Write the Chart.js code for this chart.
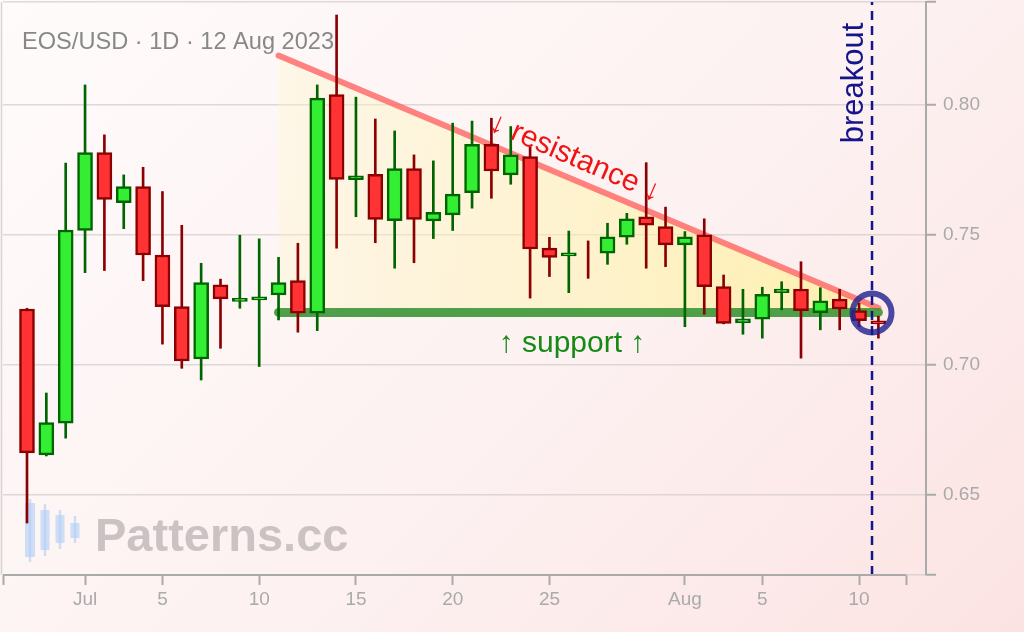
<!DOCTYPE html>
<html lang="en">
<head>
<meta charset="UTF-8">
<title>EOS/USD 1D - Descending Triangle</title>
<style>
    html, body { margin: 0; padding: 0; }
    body {
        width: 1024px;
        height: 632px;
        overflow: hidden;
        background: linear-gradient(135deg, #fffbfb 0%, #fdf1f1 55%, #fce3e3 100%);
        font-family: "Liberation Sans", Arial, sans-serif;
    }
    #chart { display: block; }
</style>
</head>
<body>
<canvas id="chart" width="1024" height="632"></canvas>

<script src="https://cdn.jsdelivr.net/npm/chart.js@4/dist/chart.umd.min.js"></script>
<script>
    // Daily candles, EOS/USD
    const dates = [
        '2023-06-28', '2023-06-29', '2023-06-30', '2023-07-01', '2023-07-02', '2023-07-03',
        '2023-07-04', '2023-07-05', '2023-07-06', '2023-07-07', '2023-07-08', '2023-07-09',
        '2023-07-10', '2023-07-11', '2023-07-12', '2023-07-13', '2023-07-14', '2023-07-15',
        '2023-07-16', '2023-07-17', '2023-07-18', '2023-07-19', '2023-07-20', '2023-07-21',
        '2023-07-22', '2023-07-23', '2023-07-24', '2023-07-25', '2023-07-26', '2023-07-27',
        '2023-07-28', '2023-07-29', '2023-07-30', '2023-07-31', '2023-08-01', '2023-08-02',
        '2023-08-03', '2023-08-04', '2023-08-05', '2023-08-06', '2023-08-07', '2023-08-08',
        '2023-08-09', '2023-08-10', '2023-08-11'
    ];
    const opens = [
        0.7215, 0.6654, 0.6776, 0.7517, 0.7817, 0.7624, 0.7686, 0.7423, 0.7224, 0.7023,
        0.7308, 0.7244, 0.7250, 0.7269, 0.7324, 0.7199, 0.8040, 0.7713, 0.7733, 0.7555,
        0.7755, 0.7554, 0.7577, 0.7663, 0.7849, 0.7731, 0.7801, 0.7449, 0.7419, 0.7410,
        0.7430, 0.7491, 0.7570, 0.7532, 0.7462, 0.7500, 0.7301, 0.7162, 0.7176, 0.7278,
        0.7292, 0.7201, 0.7253, 0.7209, 0.7170
    ];
    const highs = [
        0.7218, 0.6892, 0.7776, 0.8077, 0.7885, 0.7731, 0.7760, 0.7667, 0.7537, 0.7391,
        0.7330, 0.7499, 0.7485, 0.7414, 0.7468, 0.8077, 0.8346, 0.8030, 0.7946, 0.7900,
        0.7808, 0.7785, 0.7930, 0.7938, 0.7949, 0.7917, 0.7840, 0.7491, 0.7515, 0.7477,
        0.7545, 0.7583, 0.7778, 0.7607, 0.7513, 0.7562, 0.7346, 0.7291, 0.7299, 0.7320,
        0.7397, 0.7297, 0.7291, 0.7237, 0.7188
    ];
    const lows = [
        0.6392, 0.6650, 0.6718, 0.7355, 0.7363, 0.7524, 0.7324, 0.7080, 0.6987, 0.6942,
        0.7064, 0.7218, 0.6994, 0.7173, 0.7126, 0.7132, 0.7449, 0.7570, 0.7470, 0.7372,
        0.7393, 0.7486, 0.7517, 0.7603, 0.7641, 0.7695, 0.7257, 0.7340, 0.7278, 0.7333,
        0.7387, 0.7464, 0.7372, 0.7378, 0.7147, 0.7195, 0.7158, 0.7118, 0.7103, 0.7212,
        0.7026, 0.7135, 0.7135, 0.7147, 0.7103
    ];
    const closes = [
        0.6662, 0.6778, 0.7519, 0.7817, 0.7637, 0.7686, 0.7423, 0.7224, 0.7015, 0.7317,
        0.7254, 0.7256, 0.7262, 0.7317, 0.7199, 0.8026, 0.7714, 0.7727, 0.7560, 0.7755,
        0.7560, 0.7587, 0.7657, 0.7849, 0.7746, 0.7808, 0.7446, 0.7414, 0.7431, 0.7410,
        0.7493, 0.7562, 0.7538, 0.7462, 0.7493, 0.7301, 0.7160, 0.7177, 0.7272, 0.7292,
        0.7209, 0.7247, 0.7215, 0.7170, 0.7158
    ];

    // x axis in days counted from 1 Jul 2023
    const xTickDays = [0, 4, 9, 14, 19, 24, 31, 35, 40];
    const xTickLabels = ['Jul', '5', '10', '15', '20', '25', 'Aug', '5', '10'];
    const xMin = -4.24, xAxisEnd = 42.43, xMax = 43.46;

    const yTickValues = [0.65, 0.70, 0.75, 0.80];
    const yMin = 0.6192, yMax = 0.8396;

    // pattern: descending triangle
    const resistanceDays = [10, 41];
    const resistancePrices = [0.8190, 0.7219];
    const supportDays = [10, 41];
    const supportPrices = [0.7202, 0.7202];
    const breakoutDay = 40.67;
    const breakoutPrice = 0.7200;

    const DAY0 = Date.UTC(2023, 6, 1);
    const xs = dates.map(s => (Date.parse(s + 'T00:00:00Z') - DAY0) / 864e5);
    const isUp = closes.map((c, i) => c > opens[i]);

    const FONT = '"Liberation Sans", Arial, sans-serif';
    const AXIS_GREY = '#aaaaaa';

    // titles, watermark, labels and the shortened x axis line
    const decorations = {
        id: 'decorations',
        beforeDatasetsDraw(chart) {
            const ctx = chart.ctx;
            const a = chart.chartArea;
            ctx.save();
            ctx.strokeStyle = 'rgba(200,196,196,0.7)';
            ctx.lineWidth = 1.5;
            ctx.beginPath();
            ctx.moveTo(1.5, a.top);
            ctx.lineTo(1.5, a.bottom);
            ctx.stroke();

            // watermark logo
            ctx.fillStyle = 'rgba(175,205,245,0.6)';
            ctx.strokeStyle = 'rgba(175,205,245,0.6)';
            ctx.lineWidth = 2.5;
            [[30, 503, 557, 499, 562, 10], [45, 510, 550, 504, 556, 9],
             [60, 515, 543, 510, 549, 9], [75, 523, 538, 516, 543, 9]].forEach(c => {
                ctx.beginPath();
                ctx.moveTo(c[0], c[3]);
                ctx.lineTo(c[0], c[4]);
                ctx.stroke();
                ctx.fillRect(c[0] - c[5] / 2, c[1], c[5], c[2] - c[1]);
            });
            ctx.fillStyle = '#cbc2c3';
            ctx.font = 'bold 47px ' + FONT;
            ctx.textBaseline = 'alphabetic';
            ctx.fillText('Patterns.cc', 95, 551);

            ctx.fillStyle = '#888888';
            ctx.font = '23.6px ' + FONT;
            ctx.fillText('EOS/USD · 1D · 12 Aug 2023', 22, 49);
            ctx.restore();
        },
        afterDatasetsDraw(chart) {
            const ctx = chart.ctx;
            ctx.save();
            ctx.font = '30px ' + FONT;
            ctx.textAlign = 'center';

            ctx.fillStyle = '#ee1515';
            ctx.textBaseline = 'middle';
            ctx.translate(575, 158);
            ctx.rotate(Math.atan2(71, 164));
            ctx.fillText('↓ resistance ↓', 0, 0);
            ctx.setTransform(1, 0, 0, 1, 0, 0);

            ctx.fillStyle = '#168a16';
            ctx.textBaseline = 'alphabetic';
            ctx.fillText('↑ support ↑', 572, 352);

            ctx.fillStyle = '#14148c';
            ctx.font = '31px ' + FONT;
            ctx.translate(863, 83);
            ctx.rotate(-Math.PI / 2);
            ctx.fillText('breakout', 0, 0);
            ctx.restore();
        },
        afterDraw(chart) {
            const ctx = chart.ctx;
            const x = chart.scales.x;
            const y = chart.chartArea.bottom;
            ctx.save();
            ctx.strokeStyle = AXIS_GREY;
            ctx.lineWidth = 2;
            ctx.beginPath();
            ctx.moveTo(x.getPixelForValue(xMin), y);
            ctx.lineTo(x.getPixelForValue(xAxisEnd), y);
            ctx.stroke();
            ctx.restore();
        }
    };

    function triangleFill(context) {
        const chart = context.chart;
        if (!chart.chartArea) return 'rgba(255,240,160,0.5)';
        const x = chart.scales.x;
        const g = chart.ctx.createLinearGradient(x.getPixelForValue(resistanceDays[0]), 0,
                                                 x.getPixelForValue(resistanceDays[1]), 0);
        g.addColorStop(0, 'rgba(255,246,195,0.3)');
        g.addColorStop(1, 'rgba(255,240,150,0.75)');
        return g;
    }

    const ctx = document.getElementById('chart').getContext('2d');
    new Chart(ctx, {
        type: 'bar',
        data: {
            datasets: [
                {
                    // candle bodies
                    data: xs.map((d, i) => ({ x: d, y: [opens[i], closes[i]] })),
                    backgroundColor: isUp.map(u => u ? '#33ee33' : '#ff3333'),
                    borderColor: isUp.map(u => u ? '#006400' : '#8b0000'),
                    borderWidth: 2.5,
                    borderSkipped: false,
                    barThickness: 15,
                    grouped: false,
                    order: 1
                },
                {
                    // wicks
                    data: xs.map((d, i) => ({ x: d, y: [lows[i], highs[i]] })),
                    backgroundColor: isUp.map(u => u ? '#006400' : '#8b0000'),
                    borderWidth: 0,
                    barThickness: 2,
                    grouped: false,
                    order: 2
                },
                {
                    type: 'line',
                    data: resistanceDays.map((d, i) => ({ x: d, y: resistancePrices[i] })),
                    borderColor: 'rgba(255,100,100,0.8)',
                    borderWidth: 6,
                    borderCapStyle: 'round',
                    pointRadius: 0,
                    fill: '+1',
                    backgroundColor: triangleFill,
                    order: 5
                },
                {
                    type: 'line',
                    data: supportDays.map((d, i) => ({ x: d, y: supportPrices[i] })),
                    borderColor: 'rgba(60,150,55,0.9)',
                    borderWidth: 9,
                    borderCapStyle: 'round',
                    pointRadius: 0,
                    fill: false,
                    order: 4
                },
                {
                    type: 'line',
                    data: [{ x: breakoutDay, y: yMin }, { x: breakoutDay, y: yMax }],
                    borderColor: '#14148c',
                    borderWidth: 2.5,
                    borderDash: [9, 6],
                    pointRadius: 0,
                    fill: false,
                    order: 0
                },
                {
                    type: 'line',
                    data: [{ x: breakoutDay, y: breakoutPrice }],
                    showLine: false,
                    pointRadius: 19.5,
                    pointBorderWidth: 6,
                    pointBorderColor: 'rgba(35,35,145,0.82)',
                    pointBackgroundColor: 'rgba(0,0,0,0)',
                    order: 0
                }
            ]
        },
        options: {
            responsive: false,
            animation: false,
            layout: { autoPadding: false, padding: { left: 3, top: 2, right: 0, bottom: 0 } },
            plugins: {
                legend: { display: false },
                tooltip: { enabled: false }
            },
            scales: {
                x: {
                    type: 'linear',
                    position: 'bottom',
                    min: xMin,
                    max: xMax,
                    offset: false,
                    afterBuildTicks: s => {
                        s.ticks = [xMin, ...xTickDays, xAxisEnd].map(v => ({ value: v }));
                    },
                    afterFit: s => {
                        s.height = 57;
                        s.paddingLeft = 0;
                        s.paddingRight = 0;
                    },
                    border: { display: false },
                    grid: {
                        drawOnChartArea: false,
                        offset: false,
                        tickLength: 10,
                        tickColor: AXIS_GREY,
                        tickWidth: 2
                    },
                    ticks: {
                        autoSkip: false,
                        maxRotation: 0,
                        padding: 3,
                        color: AXIS_GREY,
                        font: { family: FONT, size: 19 },
                        callback: (v, i) => (i === 0 || i > xTickLabels.length) ? '' : xTickLabels[i - 1]
                    }
                },
                y: {
                    type: 'linear',
                    position: 'right',
                    min: yMin,
                    max: yMax,
                    beginAtZero: false,
                    afterBuildTicks: s => {
                        s.ticks = [yMin, ...yTickValues, yMax].map(v => ({ value: v }));
                    },
                    afterFit: s => {
                        s.width = 98;
                        s.paddingTop = 0;
                        s.paddingBottom = 0;
                    },
                    border: { display: true, color: AXIS_GREY, width: 2 },
                    grid: {
                        color: 'rgba(205,200,200,0.65)',
                        lineWidth: 1.5,
                        tickLength: 10,
                        tickColor: AXIS_GREY,
                        tickWidth: 2
                    },
                    ticks: {
                        padding: 7,
                        color: AXIS_GREY,
                        font: { family: FONT, size: 19 },
                        callback: (v, i) => (i === 0 || i > yTickValues.length) ? '' : yTickValues[i - 1].toFixed(2)
                    }
                }
            }
        },
        plugins: [decorations]
    });
</script>
</body>
</html>
